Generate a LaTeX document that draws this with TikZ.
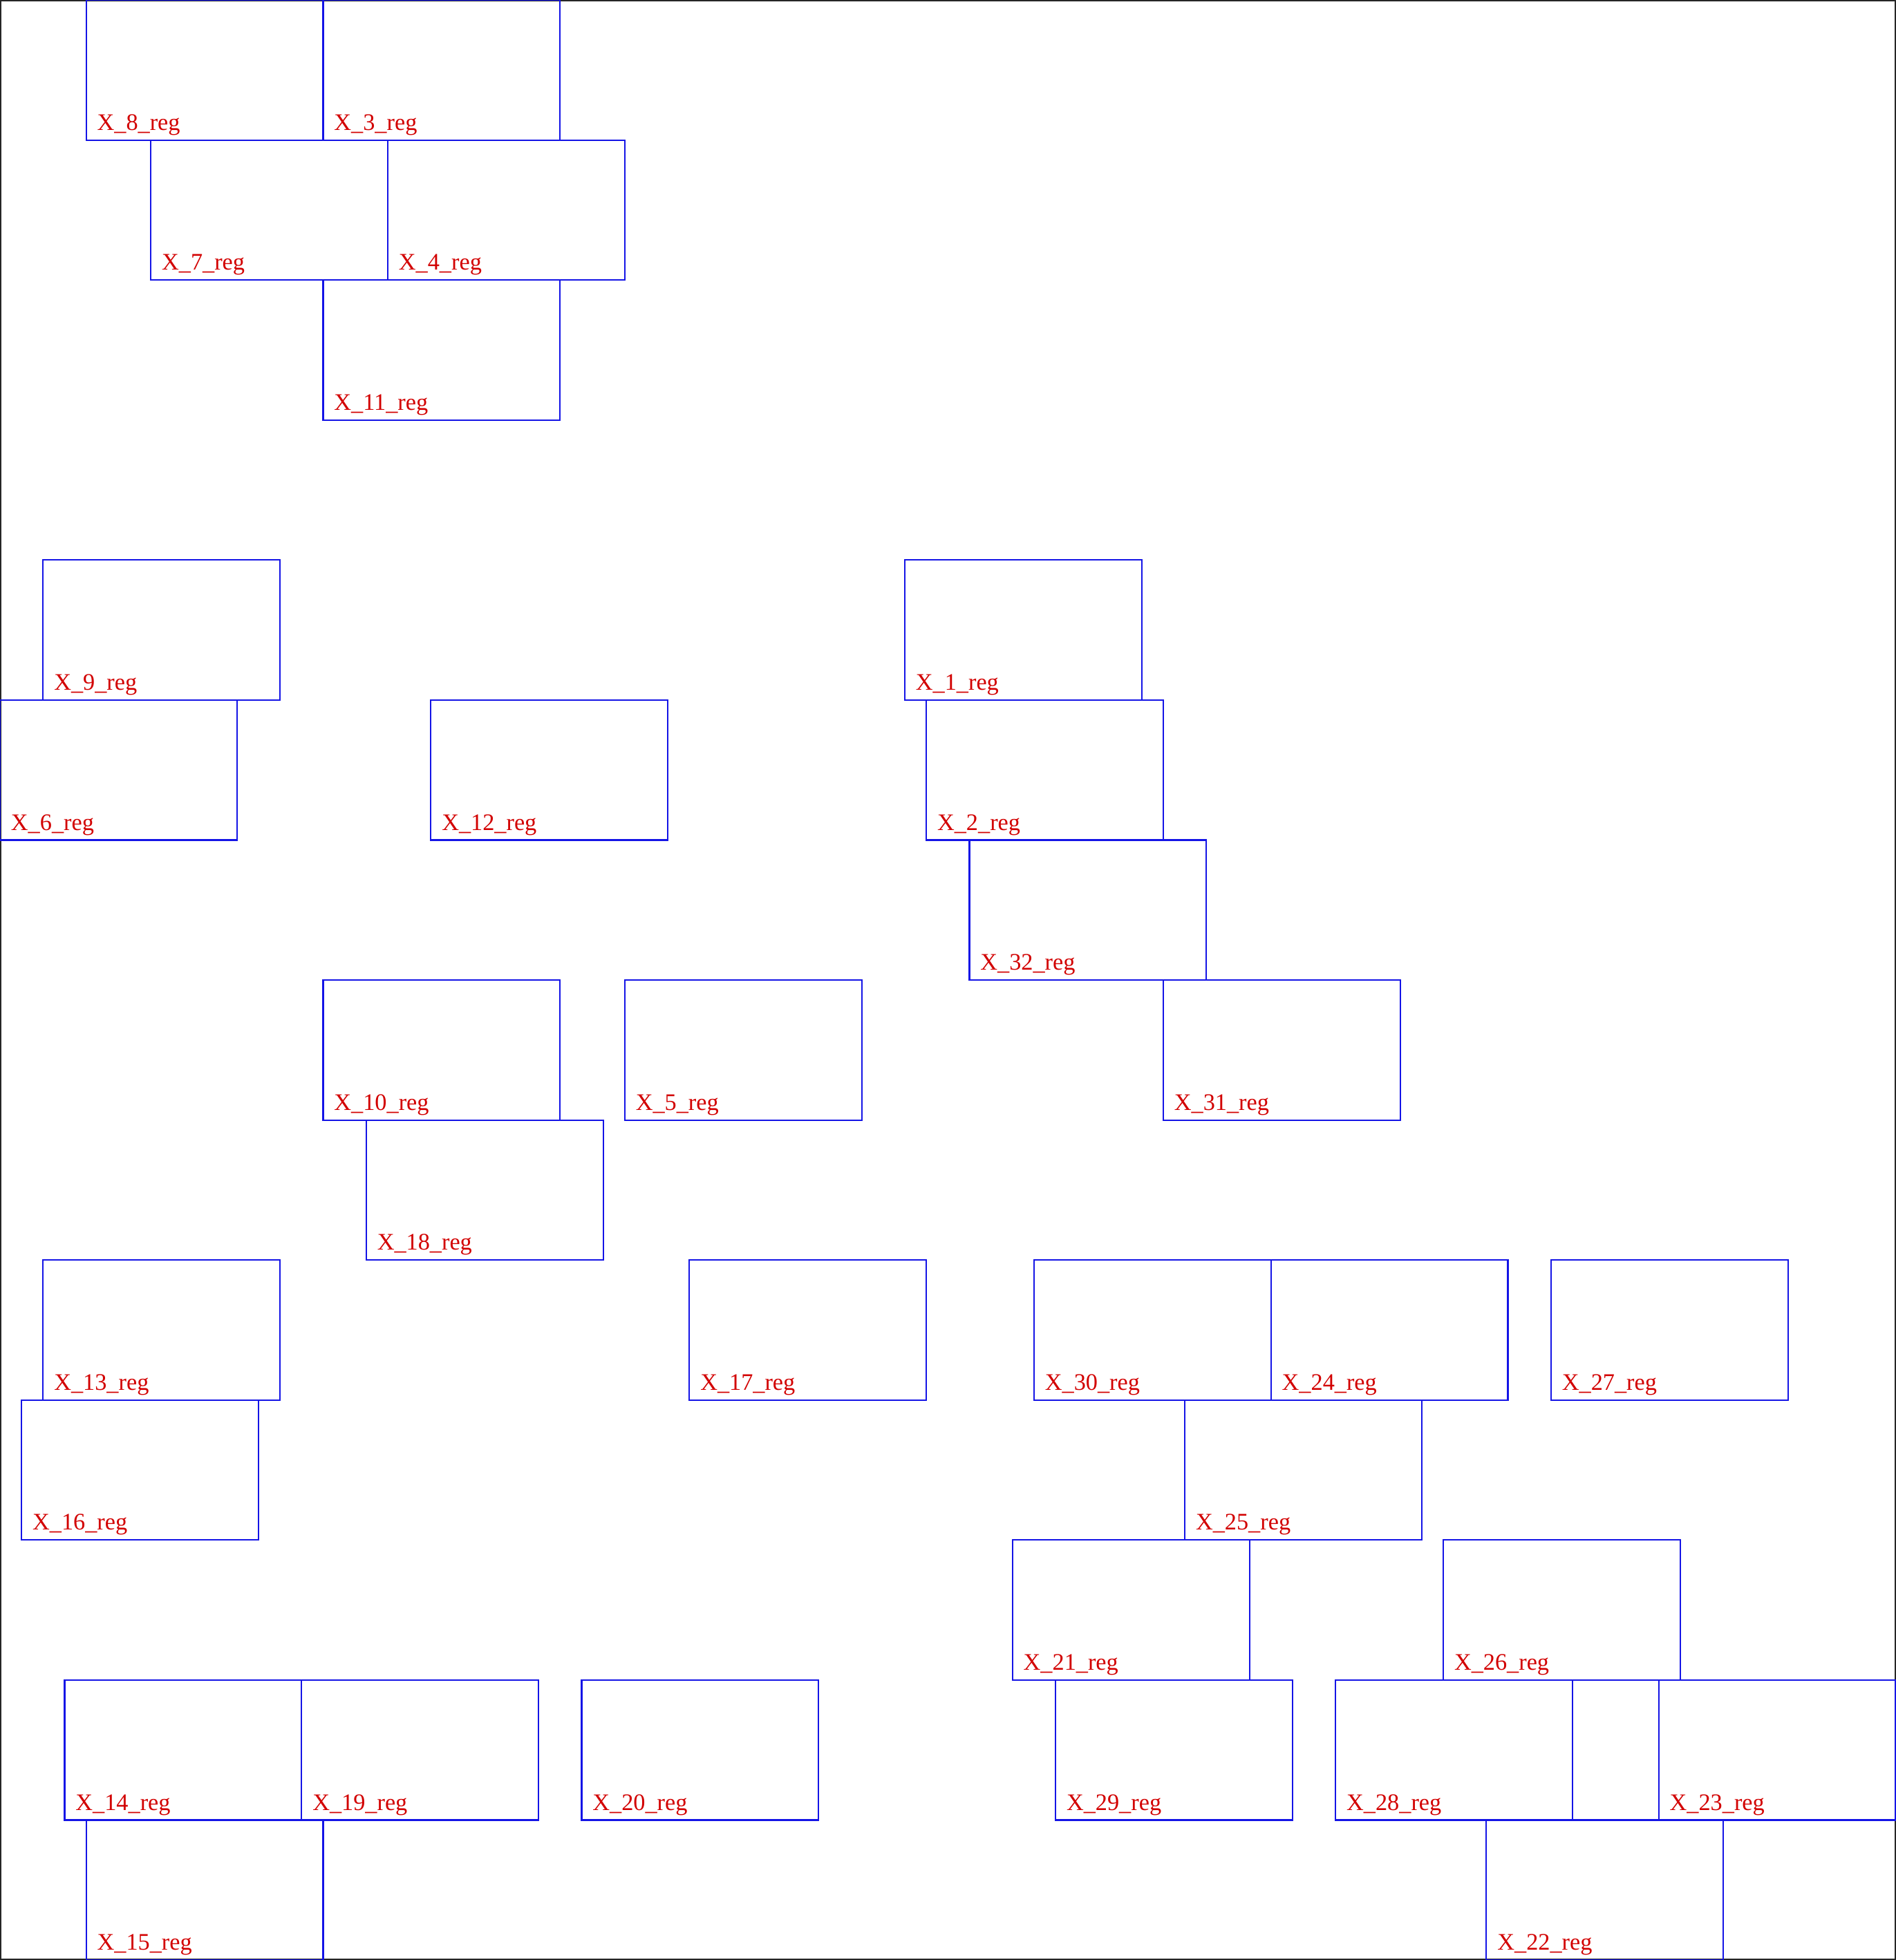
\documentclass[tikz,border=0pt]{standalone}
\usepackage{fontspec}
\setmainfont{Liberation Serif}
\definecolor{boxblue}{RGB}{20,20,230}
\definecolor{lblred}{RGB}{210,0,0}
\begin{document}
\begin{tikzpicture}[x=8pt,y=-8pt,
  regbox/.style={draw=boxblue, line width=0.55pt, rectangle, anchor=north west,
    minimum width=88pt, minimum height=52pt, inner sep=0pt, outer sep=0pt},
  lbl/.style={text=lblred, anchor=base west, inner sep=0pt, xshift=3.9pt, yshift=3.7pt,
    font=\fontsize{8.8}{10}\selectfont},
  frame/.style={draw=black!85, line width=0.5pt}]
\useasboundingbox (0,0) rectangle (88,91);
\draw[frame] (0.03,0.03) rectangle (87.97,90.97);
\foreach \n/\x/\r in {8/4/0, 3/15/0,
  7/7/1, 4/18/1,
  11/15/2,
  9/2/4, 1/42/4,
  6/0/5, 12/20/5, 2/43/5,
  32/45/6,
  10/15/7, 5/29/7, 31/54/7,
  18/17/8,
  13/2/9, 17/32/9, 30/48/9, 24/59/9, 27/72/9,
  16/1/10, 25/55/10,
  21/47/11, 26/67/11,
  14/3/12, 19/14/12, 20/27/12, 29/49/12, 28/62/12, 23/77/12,
  15/4/13, 22/69/13}
{
  \node[regbox] (X\n) at (\x, \r*6.5) {};
  \node[lbl] (L\n) at (X\n.south west) {X\_\n\_reg};
}
\end{tikzpicture}
\end{document}
